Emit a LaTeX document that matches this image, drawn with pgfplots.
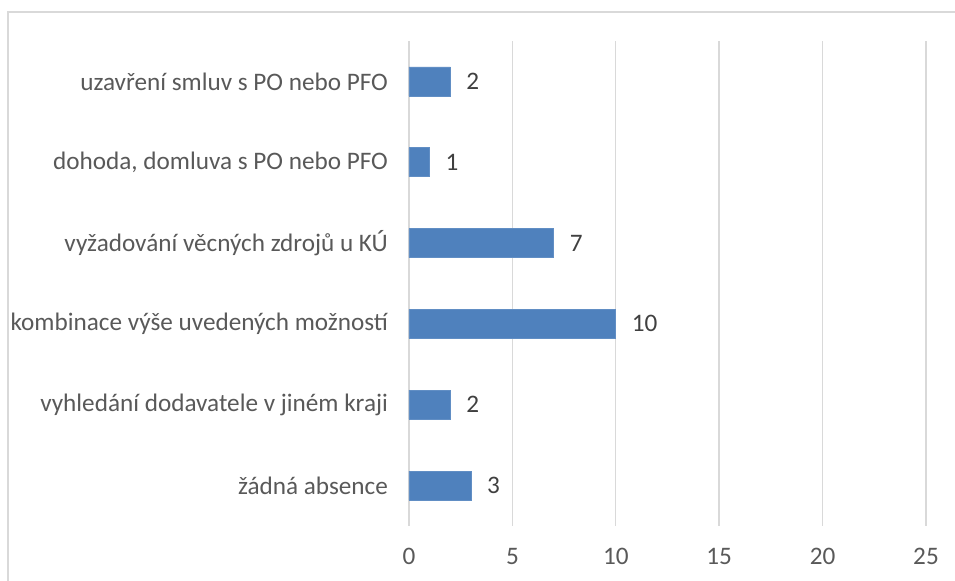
\documentclass[border=0pt]{standalone}
\usepackage{pgfplots}
\pgfplotsset{compat=1.18}
\usepackage{fontspec}
\setmainfont{Carlito}
\definecolor{barblue}{HTML}{4F81BD}
\definecolor{gridgray}{HTML}{D9D9D9}
\definecolor{labgray}{HTML}{595959}
\definecolor{valgray}{HTML}{404040}
\begin{document}
\begin{tikzpicture}[x=1pt,y=1pt]
\useasboundingbox (0,0) rectangle (477.5,290.5);
\clip (0,0) rectangle (477.5,290.5);
\draw[gridgray, line width=0.7pt] (4,-10) -- (4,284.5) -- (490,284.5);
\begin{axis}[
  at={(204.5pt,27.5pt)}, anchor=south west,
  scale only axis,
  width=258.5pt, height=242.5pt,
  xbar, bar width=14.5pt,
  xmin=0, xmax=25, ymin=-0.5, ymax=5.5,
  xtick={0,5,10,15,20,25},
  ytick={0,1,2,3,4,5},
  yticklabels={žádná absence, vyhledání dodavatele v jiném kraji, kombinace výše uvedených možností, vyžadování věcných zdrojů u KÚ, {dohoda, domluva s PO nebo PFO}, uzavření smluv s PO nebo PFO},
  axis line style={draw=none},
  major tick length=0pt,
  xmajorgrids, grid style={gridgray, line width=0.7pt},
  /pgf/number format/assume math mode=true,
  tick label style={font=\fontsize{12.6}{15}\selectfont, text=labgray},
  xticklabel style={yshift=-7.5pt},
  yticklabel style={xshift=-7pt},
  nodes near coords,
  nodes near coords style={font=\fontsize{12.6}{15}\selectfont, text=valgray, anchor=west, xshift=4.5pt},
]
\addplot[fill=barblue, draw=barblue!90!white, line width=0.4pt] coordinates {
  (3,0) (2,1) (10,2) (7,3) (1,4) (2,5)
};
\end{axis}
\end{tikzpicture}
\end{document}
